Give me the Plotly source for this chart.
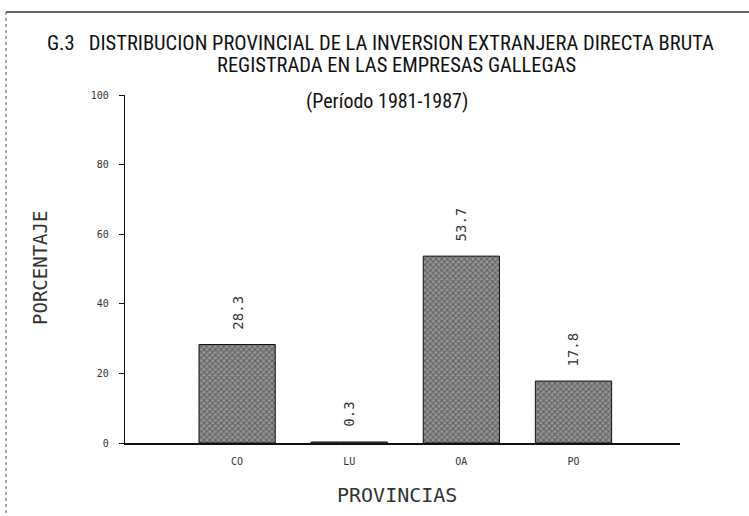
import plotly.graph_objects as go

provincias = ["CO", "LU", "OA", "PO"]
porcentaje = [28.3, 0.3, 53.7, 17.8]
etiquetas = ["28.3", "0.3", "53.7", "17.8"]
y_ticks = [0, 20, 40, 60, 80, 100]

W, H = 749, 516
L, R, T, B = 125, 69, 95, 73

fig = go.Figure()
fig.add_trace(go.Bar(
    x=list(range(len(provincias))),
    y=porcentaje,
    width=0.68,
    marker=dict(
        color="#7a7a7a",
        line=dict(color="#111", width=1),
        pattern=dict(shape="x", fgcolor="#262626", bgcolor="#959595", size=4, solidity=0.45),
    ),
))

def px_x(v):
    return (v - L) / (W - L - R)

def px_y(v):
    return 1 - (v - T) / (H - T - B)

mono = "DejaVu Sans Mono"
cond = "Liberation Sans Narrow, Roboto Condensed, Liberation Sans"

annotations = []
for i, (v, lab) in enumerate(zip(porcentaje, etiquetas)):
    annotations.append(dict(
        x=i, y=v, xref="x", yref="y", text=lab, showarrow=False,
        textangle=-90, xanchor="center", yanchor="bottom", yshift=13,
        font=dict(family=mono, size=14, color="#333"),
    ))

annotations += [
    dict(text="G.3   DISTRIBUCION PROVINCIAL DE LA INVERSION EXTRANJERA DIRECTA BRUTA",
         xref="paper", yref="paper", x=px_x(380), y=px_y(43), showarrow=False,
         xanchor="center", yanchor="middle",
         font=dict(family=cond, size=20.5, color="#111")),
    dict(text="REGISTRADA EN LAS EMPRESAS GALLEGAS",
         xref="paper", yref="paper", x=px_x(396), y=px_y(65), showarrow=False,
         xanchor="center", yanchor="middle",
         font=dict(family=cond, size=20.5, color="#111")),
    dict(text="(Período 1981-1987)",
         xref="paper", yref="paper", x=px_x(387), y=px_y(101), showarrow=False,
         xanchor="center", yanchor="middle",
         font=dict(family=cond, size=20, color="#111")),
    dict(text="PROVINCIAS",
         xref="paper", yref="paper", x=px_x(397), y=px_y(495), showarrow=False,
         xanchor="center", yanchor="middle",
         font=dict(family=mono, size=20, color="#333")),
    dict(text="PORCENTAJE",
         xref="paper", yref="paper", x=px_x(40), y=px_y(268), showarrow=False,
         xanchor="center", yanchor="middle", textangle=-90,
         font=dict(family=mono, size=19, color="#333")),
]

fig.update_layout(
    width=W, height=H,
    margin=dict(l=L, r=R, t=T, b=B, autoexpand=False),
    paper_bgcolor="white", plot_bgcolor="white",
    showlegend=False,
    font=dict(family=mono, color="#222"),
    xaxis=dict(
        range=[-1, 3.95],
        tickvals=list(range(len(provincias))),
        ticktext=provincias,
        ticks="", showgrid=False, zeroline=False, automargin=False,
        showline=True, linecolor="#111", linewidth=1.5,
        tickfont=dict(family=mono, size=10, color="#333"),
        ticklabelstandoff=8,
    ),
    yaxis=dict(
        range=[0, 100],
        tickvals=y_ticks,
        ticktext=[str(v) for v in y_ticks],
        ticks="outside", ticklen=5, tickcolor="#111", automargin=False,
        showgrid=False, zeroline=False,
        showline=True, linecolor="#111", linewidth=1.2,
        tickfont=dict(family=mono, size=10, color="#333"),
        ticklabelstandoff=8,
    ),
    annotations=annotations,
    shapes=[
        dict(type="line", xref="paper", yref="paper", x0=px_x(6), x1=px_x(749), y0=px_y(12), y1=px_y(12),
             line=dict(color="#333", width=1.5)),
        dict(type="line", xref="paper", yref="paper", x0=px_x(6), x1=px_x(6), y0=px_y(12), y1=px_y(516),
             line=dict(color="#555", width=1, dash="dot")),
    ],
)

fig.write_html("out.html", config={"displayModeBar": False},
               post_script="document.body.style.margin='0';")
